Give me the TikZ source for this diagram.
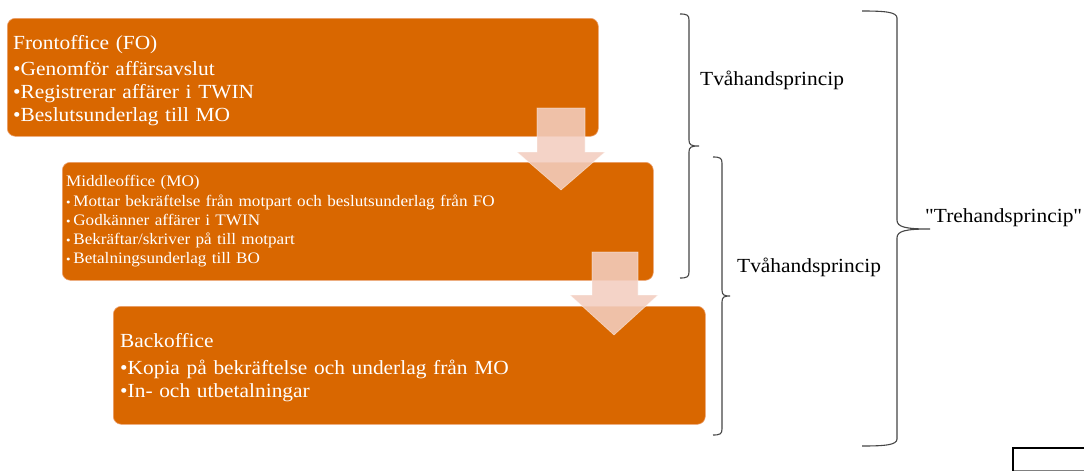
\documentclass[tikz,border=0pt]{standalone}
\usepackage{fontspec}
\setmainfont{Liberation Serif}[FakeStretch=1.07, Ligatures=TeXOff]
\definecolor{boxfill}{RGB}{217,103,0}
\definecolor{boxedge}{RGB}{236,160,110}
\definecolor{arrowfill}{RGB}{243,206,192}
\definecolor{bracecol}{RGB}{70,70,70}
\newcommand{\bigtxt}{\fontsize{20}{23}\selectfont}
\newcommand{\smalltxt}{\fontsize{16}{19}\selectfont}
\newcommand{\sbul}{{\fontsize{12}{19}\selectfont•}\,}
\tikzset{
  box/.style={draw=boxedge, line width=0.6pt, fill=boxfill, rounded corners=8pt,
    anchor=north west, minimum height=118pt, inner sep=0pt},
  boxtext/.style={anchor=west, text=white, align=left, inner sep=0pt, text width=575pt},
  blockarrow/.style={fill=arrowfill, fill opacity=0.88, draw=white, draw opacity=0.5, line width=0.6pt},
  bracepath/.style={draw=bracecol, line width=1.1pt},
  label/.style={anchor=west, inner sep=0pt, font=\bigtxt, text=black},
}
\begin{document}
\begin{tikzpicture}[x=1pt,y=-1pt]
\useasboundingbox[fill=white] (0,0) rectangle (1084,471);

% boxes
\node[box, minimum width=591pt] (fo) at (7,18) {};
\node[box, minimum width=591pt] (mo) at (62,162) {};
\node[box, minimum width=592pt] (bo) at (113,306) {};

% box texts
\node[boxtext, font=\bigtxt] (fotext) at ([xshift=6pt, yshift=-3pt]fo.west)
  {Frontoffice (FO)\\[3pt]
   •Genomför affärsavslut\\
   •Registrerar affärer i TWIN\\
   •Beslutsunderlag till MO};
\node[boxtext, font=\smalltxt] (motext) at ([xshift=4pt]mo.west)
  {Middleoffice (MO)\\[1pt]
   \sbul Mottar bekräftelse från motpart och beslutsunderlag från FO\\
   \sbul Godkänner affärer i TWIN\\
   \sbul Bekräftar/skriver på till motpart\\
   \sbul Betalningsunderlag till BO};
\node[boxtext, font=\bigtxt] (botext) at ([xshift=7pt, yshift=-2pt]bo.west)
  {Backoffice\\[4pt]
   •Kopia på bekräftelse och underlag från MO\\
   •In- och utbetalningar};

% block arrows
\draw[blockarrow] (537,108) -- (585,108) -- (585,152) -- (605,152) -- (561,190)
  -- (517,152) -- (537,152) -- cycle;
\draw[blockarrow] (592,252) -- (638,252) -- (638,295) -- (658,295) -- (614,335)
  -- (570,295) -- (592,295) -- cycle;

% braces
\draw[bracepath] (680,14) .. controls (687,14) and (689,15) .. (689,20) -- (689,140)
  .. controls (689,145) and (691,146) .. (699,146)
  .. controls (691,146) and (689,147) .. (689,152) -- (689,272)
  .. controls (689,277) and (687,278) .. (680,278);
\draw[bracepath] (713,157) .. controls (720,157) and (722,158) .. (722,163) -- (722,290)
  .. controls (722,295) and (724,296) .. (730,296)
  .. controls (724,296) and (722,297) .. (722,302) -- (722,429)
  .. controls (722,434) and (720,435) .. (713,435);
\draw[bracepath] (862,11) .. controls (885,11) and (897,12) .. (897,18) -- (897,220)
  .. controls (897,227) and (905,229) .. (930,229)
  .. controls (905,229) and (897,231) .. (897,238) -- (897,439)
  .. controls (897,445) and (885,446) .. (862,446);

% labels
\node[label] (two1) at (700,80) {Tvåhandsprincip};
\node[label] (two2) at (737,267) {Tvåhandsprincip};
\node[label] (three) at (925,218) {"Trehandsprincip"};

% bottom-right frame
\draw[gray, line width=1pt] (1013,470) -- (1090,470);
\draw[black, line width=2.2pt] (1013,472) -- (1013,448) -- (1090,448);
\end{tikzpicture}
\end{document}
